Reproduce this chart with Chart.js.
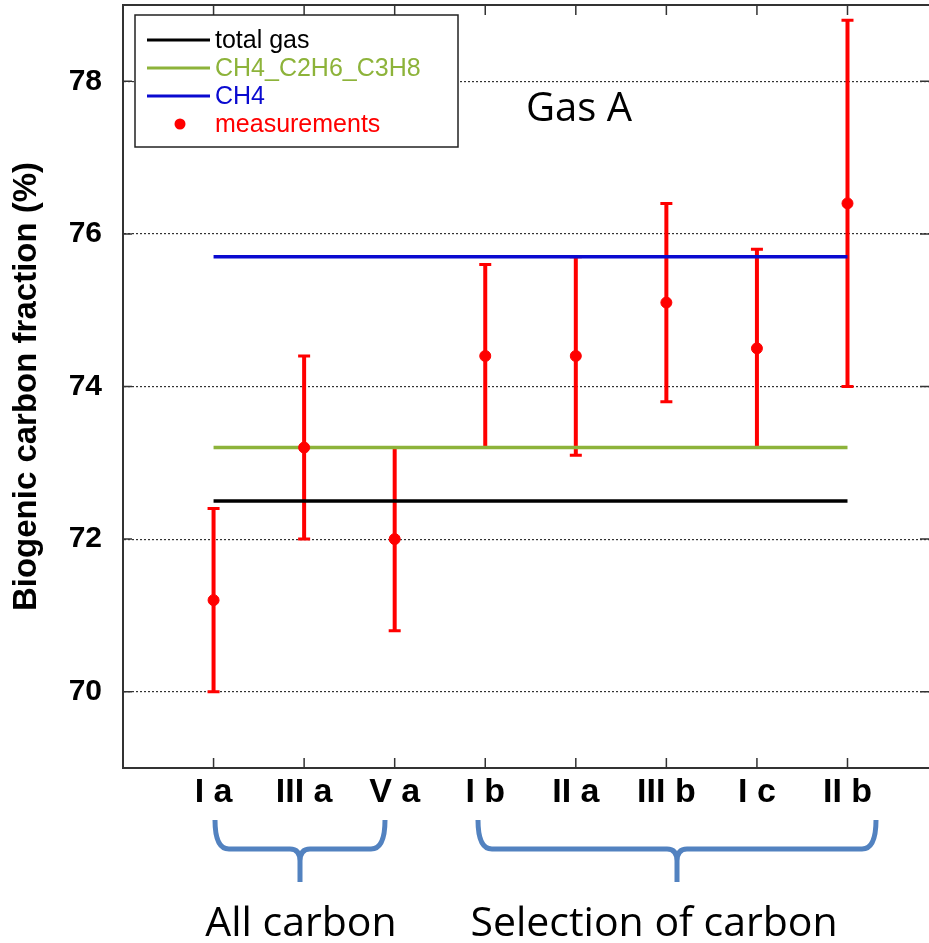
<!DOCTYPE html>
<html>
<head>
<meta charset="utf-8">
<script src="https://cdn.jsdelivr.net/npm/chart.js@4"></script>
<style>
  html, body { margin: 0; padding: 0; background: #fff; }
  #wrap { width: 929px; height: 943px; }
</style>
</head>
<body>
<div id="wrap"><canvas id="myChart" width="929" height="943"></canvas></div>
<script>
// datos
const categories = ['I a', 'III a', 'V a', 'I b', 'II a', 'III b', 'I c', 'II b'];
const measurements = [71.2, 73.2, 72.0, 74.4, 74.4, 75.1, 74.5, 76.4];
const errLow = [70.0, 72.0, 70.8, 73.2, 73.1, 73.8, 73.2, 74.0];
const errHigh = [72.4, 74.4, 73.2, 75.6, 75.7, 76.4, 75.8, 78.8];
const totalGas = 72.5;
const ch4C2h6C3h8 = 73.2;
const ch4 = 75.7;
const yTicks = [70, 72, 74, 76, 78];
const groups = ['All carbon', 'Selection of carbon'];

const positions = categories.map((c, i) => i + 1);
const first = positions[0];
const last = positions[positions.length - 1];

function hline(v) {
   return [{x: first, y: v}, {x: last, y: v}];
}

const colBlack = '#000000';
const colGreen = '#8db33a';
const colBlue = '#0a0ad0';
const colRed = '#ff0000';
const colBrace = '#5282c0';

const data = {
   datasets: [
      {label: 'measurements', data: positions.map((x, i) => ({x: x, y: measurements[i]})),
       backgroundColor: colRed, borderColor: colRed, pointRadius: 5.5, pointHoverRadius: 5.5, showLine: false},
      {label: 'CH4', data: hline(ch4), borderColor: colBlue, borderWidth: 3.5, pointRadius: 0, showLine: true},
      {label: 'CH4_C2H6_C3H8', data: hline(ch4C2h6C3h8), borderColor: colGreen, borderWidth: 3.5, pointRadius: 0, showLine: true},
      {label: 'total gas', data: hline(totalGas), borderColor: colBlack, borderWidth: 3.5, pointRadius: 0, showLine: true}
   ]
};

// barras de error, marcas, leyenda y textos
const extras = {
   id: 'extras',
   beforeDatasetsDraw(chart) {
      const ctx = chart.ctx;
      const xs = chart.scales.x, ys = chart.scales.y;
      ctx.save();
      ctx.strokeStyle = colRed;
      positions.forEach((p, i) => {
         const x = xs.getPixelForValue(p);
         const y1 = ys.getPixelForValue(errLow[i]);
         const y2 = ys.getPixelForValue(errHigh[i]);
         ctx.lineWidth = 4;
         ctx.beginPath();
         ctx.moveTo(x, y1); ctx.lineTo(x, y2);
         ctx.stroke();
         ctx.lineWidth = 3;
         ctx.beginPath();
         ctx.moveTo(x - 6, y1); ctx.lineTo(x + 6, y1);
         ctx.moveTo(x - 6, y2); ctx.lineTo(x + 6, y2);
         ctx.stroke();
      });
      ctx.restore();
   },
   afterDraw(chart) {
      const ctx = chart.ctx;
      const a = chart.chartArea;
      const xs = chart.scales.x, ys = chart.scales.y;
      ctx.save();

      // marco superior y marcas hacia dentro
      ctx.strokeStyle = '#333';
      ctx.lineWidth = 2;
      ctx.beginPath();
      ctx.moveTo(a.left, a.top); ctx.lineTo(a.right, a.top);
      ctx.stroke();
      ctx.lineWidth = 1.5;
      ctx.beginPath();
      positions.forEach(p => {
         const x = xs.getPixelForValue(p);
         ctx.moveTo(x, a.top); ctx.lineTo(x, a.top + 10);
         ctx.moveTo(x, a.bottom); ctx.lineTo(x, a.bottom - 10);
      });
      yTicks.forEach(v => {
         const y = ys.getPixelForValue(v);
         ctx.moveTo(a.left, y); ctx.lineTo(a.left + 9, y);
         ctx.moveTo(a.right, y); ctx.lineTo(a.right - 9, y);
      });
      ctx.stroke();

      // leyenda
      const lx = 135, ly = 15, lw = 323, lh = 132;
      ctx.fillStyle = '#fff';
      ctx.fillRect(lx, ly, lw, lh);
      ctx.strokeStyle = '#222';
      ctx.lineWidth = 1.5;
      ctx.strokeRect(lx, ly, lw, lh);
      const items = [
         {text: 'total gas', color: colBlack, line: true},
         {text: 'CH4_C2H6_C3H8', color: colGreen, line: true},
         {text: 'CH4', color: colBlue, line: true},
         {text: 'measurements', color: colRed, line: false}
      ];
      ctx.font = '25px "Liberation Sans", Arial, sans-serif';
      ctx.textBaseline = 'middle';
      ctx.textAlign = 'left';
      items.forEach((it, k) => {
         const y = 40 + k * 28;
         if (it.line) {
            ctx.strokeStyle = it.color;
            ctx.lineWidth = 3;
            ctx.beginPath();
            ctx.moveTo(147, y); ctx.lineTo(210, y);
            ctx.stroke();
         } else {
            ctx.fillStyle = it.color;
            ctx.beginPath();
            ctx.arc(180, y, 5.5, 0, Math.PI * 2);
            ctx.fill();
         }
         ctx.fillStyle = it.color;
         ctx.fillText(it.text, 215, y + 1);
      });

      // texto Gas A
      ctx.fillStyle = '#000';
      ctx.font = '40px "Open Sans", sans-serif';
      ctx.textAlign = 'center';
      ctx.textBaseline = 'alphabetic';
      ctx.fillText('Gas A', 579, 121);

      // llaves de los grupos
      const spans = [[215, 385], [478, 876]];
      ctx.strokeStyle = colBrace;
      ctx.lineWidth = 5;
      ctx.lineJoin = 'round';
      spans.forEach((s, k) => {
         const x1 = s[0], x2 = s[1], xm = (x1 + x2) / 2;
         const yt = 820, yh = 849, yb = 882;
         ctx.beginPath();
         ctx.moveTo(x1, yt);
         ctx.quadraticCurveTo(x1, yh, x1 + 14, yh);
         ctx.lineTo(xm - 10, yh);
         ctx.quadraticCurveTo(xm, yh, xm, yh + 12);
         ctx.lineTo(xm, yb);
         ctx.moveTo(xm, yh + 12);
         ctx.quadraticCurveTo(xm, yh, xm + 10, yh);
         ctx.lineTo(x2 - 14, yh);
         ctx.quadraticCurveTo(x2, yh, x2, yt);
         ctx.stroke();
         ctx.fillStyle = '#000';
         ctx.font = '41px "Open Sans", sans-serif';
         ctx.textAlign = 'center';
         ctx.fillText(groups[k], k === 0 ? 301 : 654, 936);
      });
      ctx.restore();
   }
};

const config = {
   type: 'scatter',
   data: data,
   plugins: [extras],
   options: {
      responsive: false,
      animation: false,
      layout: {autoPadding: false, padding: {top: 5, right: 0, left: 0, bottom: 0}},
      plugins: {legend: {display: false}, tooltip: {enabled: false}},
      scales: {
         x: {
            type: 'linear',
            min: 0,
            max: 8.9,
            afterBuildTicks: s => { s.ticks = positions.map(v => ({value: v})); },
            afterFit: s => { s.height = 175; s.paddingLeft = 0; s.paddingRight = 0; },
            grid: {display: false, drawTicks: false},
            border: {display: true, color: '#333', width: 2},
            ticks: {
               color: '#000',
               padding: 4,
               autoSkip: false,
               maxRotation: 0,
               font: {family: '"Liberation Sans", Arial, sans-serif', size: 34, weight: 'bold'},
               callback: v => categories[v - 1] || ''
            }
         },
         y: {
            min: 69,
            max: 79,
            afterBuildTicks: s => { s.ticks = yTicks.map(v => ({value: v})); },
            afterFit: s => { s.width = 123; s.paddingTop = 0; s.paddingBottom = 0; },
            grid: {color: '#333', lineWidth: 1.2, drawTicks: false},
            border: {display: true, color: '#333', width: 2, dash: [2, 2]},
            ticks: {
               color: '#000',
               padding: 21,
               font: {family: '"Liberation Sans", Arial, sans-serif', size: 30, weight: 'bold'}
            },
            title: {
               display: true,
               text: 'Biogenic carbon fraction (%)',
               color: '#000',
               padding: {top: 7, bottom: 0},
               font: {family: '"Liberation Sans", Arial, sans-serif', size: 33, weight: 'bold'}
            }
         }
      }
   }
};

const myChart = new Chart(document.getElementById('myChart'), config);
</script>
</body>
</html>
